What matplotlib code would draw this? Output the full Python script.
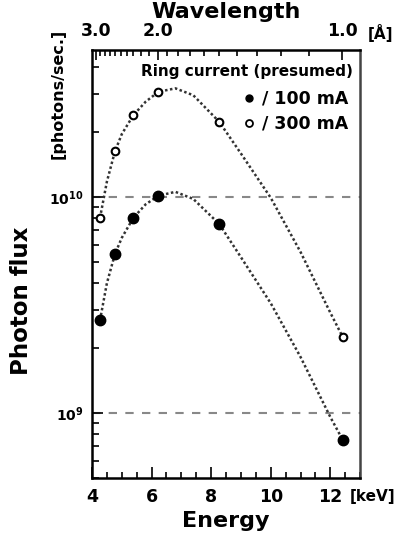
import numpy as np
import matplotlib
matplotlib.use("Agg")
import matplotlib.pyplot as plt
import matplotlib.ticker as ticker

plt.rcParams['font.family'] = ['DejaVu Sans']
plt.rcParams['font.weight'] = 'bold'
plt.rcParams['mathtext.default'] = 'bf'

HC = 12.398  # keV * Angstrom

# measured points (energy in keV)
energy_pts = [4.27, 4.77, 5.39, 6.23, 8.27, 12.41]
flux_100mA = [2.69e9, 5.43e9, 8.0e9, 1.01e10, 7.48e9, 7.5e8]
flux_300mA = [8.0e9, 1.63e10, 2.39e10, 3.06e10, 2.22e10, 2.25e9]

# fitted curves (log10 of flux)
fit_energy = [4.27, 4.5, 4.77, 5.0, 5.39, 5.8, 6.23, 6.8, 7.4, 8.27, 9.0, 10.0, 11.0, 12.0, 12.41]
fit_log_100mA = [9.429, 9.60, 9.735, 9.81, 9.903, 9.965, 10.005, 10.023, 9.99, 9.874, 9.72, 9.507, 9.258, 8.98, 8.876]
fit_log_300mA = [9.903, 10.07, 10.21, 10.29, 10.378, 10.44, 10.486, 10.502, 10.47, 10.347, 10.20, 9.995, 9.744, 9.463, 9.352]

energy_ticks = [4, 6, 8, 10, 12]
wl_major = [3.0, 2.0, 1.0]
wl_minor = [round(w, 1) for w in np.arange(1.1, 3.05, 0.1)]

fig = plt.figure(figsize=(4.07, 5.33), dpi=100)
ax = fig.add_axes([0.226, 0.103, 0.659, 0.803])

# reference lines
for level in [1e9, 1e10]:
  ax.axhline(level, color='#888888', lw=1.5, dashes=(4, 4), zorder=1)

ax.plot(fit_energy, 10 ** np.array(fit_log_100mA), color='#333333', lw=1.8, ls=(0, (1, 1)), zorder=2)
ax.plot(fit_energy, 10 ** np.array(fit_log_300mA), color='#333333', lw=1.8, ls=(0, (1, 1)), zorder=2)
ax.plot(energy_pts, flux_100mA, 'o', color='black', ms=7.5, zorder=3)
ax.plot(energy_pts, flux_300mA, 'o', mfc='white', mec='black', mew=1.5, ms=5.5, zorder=3)

ax.set_yscale('log')
ax.set_xlim(4, 13)
ax.set_ylim(10 ** 8.698, 10 ** 10.679)

ax.set_xticks(energy_ticks)
ax.set_xticklabels([str(e) for e in energy_ticks], fontsize=12.5, fontweight='bold')
ax.xaxis.set_minor_locator(ticker.MultipleLocator(0.5))
ax.set_yticks([1e9, 1e10])
ax.set_yticklabels([r'$\mathbf{10^{9}}$', r'$\mathbf{10^{10}}$'], fontsize=10)
ax.yaxis.set_minor_locator(ticker.LogLocator(base=10, subs=np.arange(2, 10)))
ax.yaxis.set_minor_formatter(ticker.NullFormatter())
ax.tick_params(which='both', direction='in', top=False, right=False, width=1.2)
ax.tick_params(axis='x', which='major', length=8, pad=7)
ax.tick_params(axis='x', which='minor', length=4)
ax.tick_params(axis='y', which='major', length=8, pad=6)
ax.tick_params(axis='y', which='minor', length=5)
for s in ax.spines.values():
  s.set_linewidth(1.8)
ax.spines['right'].set_color('#444444')

# top axis: wavelength
ax2 = ax.twiny()
ax2.set_xlim(ax.get_xlim())
ax2.set_xticks([HC / w for w in wl_major])
ax2.set_xticklabels(['%.1f' % w for w in wl_major], fontsize=12.5, fontweight='bold')
ax2.set_xticks([HC / w for w in wl_minor if w not in wl_major], minor=True)
ax2.tick_params(which='both', direction='in', width=1.2)
ax2.tick_params(which='major', length=7, pad=7)
ax2.tick_params(which='minor', length=4)
for s in ax2.spines.values():
  s.set_visible(False)

# legend made of text
ax.text(0.974, 0.949, 'Ring current (presumed)', transform=ax.transAxes,
        ha='right', va='center', fontsize=11, fontweight='bold')
ax.plot([0.585], [0.888], 'o', color='black', ms=5, transform=ax.transAxes)
ax.plot([0.585], [0.829], 'o', mfc='white', mec='black', mew=1.3, ms=5, transform=ax.transAxes)
ax.text(0.955, 0.888, '/ 100 mA', transform=ax.transAxes,
        ha='right', va='center', fontsize=12.5, fontweight='bold')
ax.text(0.955, 0.829, '/ 300 mA', transform=ax.transAxes,
        ha='right', va='center', fontsize=12.5, fontweight='bold')

# axis labels
fig.text(0.555, 0.997, 'Wavelength', ha='center', va='top', fontsize=16, fontweight='bold')
fig.text(0.904, 0.938, '[Å]', ha='left', va='center', fontsize=11, fontweight='bold')
fig.text(0.555, 0.004, 'Energy', ha='center', va='bottom', fontsize=16, fontweight='bold')
fig.text(0.860, 0.069, '[keV]', ha='left', va='center', fontsize=11, fontweight='bold')
fig.text(0.054, 0.436, 'Photon flux', ha='center', va='center', rotation=90,
         fontsize=16.5, fontweight='bold')
fig.text(0.143, 0.823, '[photons/sec.]', ha='center', va='center', rotation=90,
         fontsize=11.5, fontweight='bold')

fig.savefig('out.png', dpi=100)
